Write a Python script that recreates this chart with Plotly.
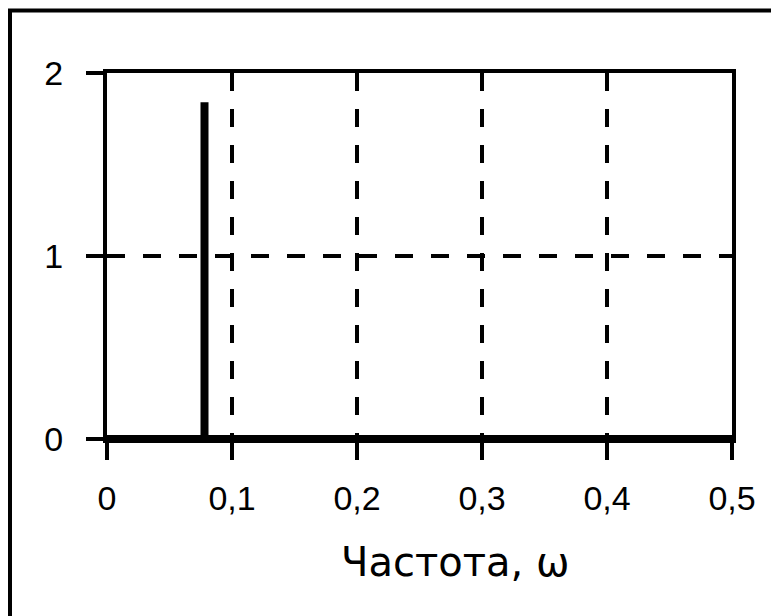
import plotly.graph_objects as go

# Spectrum data: frequency (omega) vs spectral density
frequency = [0.0, 0.078, 0.078, 0.078, 0.5]
spectrum = [0.0, 0.0, 1.84, 0.0, 0.0]

x_ticks = [0, 0.1, 0.2, 0.3, 0.4, 0.5]
y_ticks = [0, 1, 2]
x_title = "Частота, ω"

fig = go.Figure()
fig.add_trace(go.Scatter(
    x=frequency, y=spectrum, mode="lines",
    line=dict(color="black", width=8),
    cliponaxis=False, showlegend=False, hoverinfo="skip",
))

tick_font = dict(family="Liberation Sans", size=34, color="black")

fig.update_layout(
    width=779, height=616,
    margin=dict(l=99, r=55, t=65, b=185),
    paper_bgcolor="white", plot_bgcolor="white",
    separators=",.",
    xaxis=dict(
        range=[0, 0.5], tickvals=x_ticks,
        showline=True, linecolor="black", linewidth=4, mirror=True,
        ticks="outside", ticklen=17, tickwidth=4, tickcolor="black",
        showgrid=True, gridcolor="black", gridwidth=4, griddash="18px,18px",
        zeroline=False, tickfont=tick_font, ticklabelstandoff=9,
    ),
    yaxis=dict(
        range=[0, 2], tickvals=y_ticks,
        showline=True, linecolor="black", linewidth=4, mirror=True,
        ticks="outside", ticklen=17, tickwidth=4, tickcolor="black",
        showgrid=True, gridcolor="black", gridwidth=4, griddash="18px,18px",
        zeroline=False, tickfont=tick_font, ticklabelstandoff=16,
    ),
    annotations=[dict(
        text=x_title, xref="paper", yref="paper", x=0.557, y=-0.336,
        xanchor="center", yanchor="middle", showarrow=False,
        font=dict(family="DejaVu Sans", size=40, color="black"),
    )],
    shapes=[dict(
        type="path", xref="paper", yref="paper",
        path="M -0.1552,-0.7 L -0.1552,1.1708 L 1.2,1.1708",
        line=dict(color="black", width=4),
    )],
)

fig.write_html("out.html")
